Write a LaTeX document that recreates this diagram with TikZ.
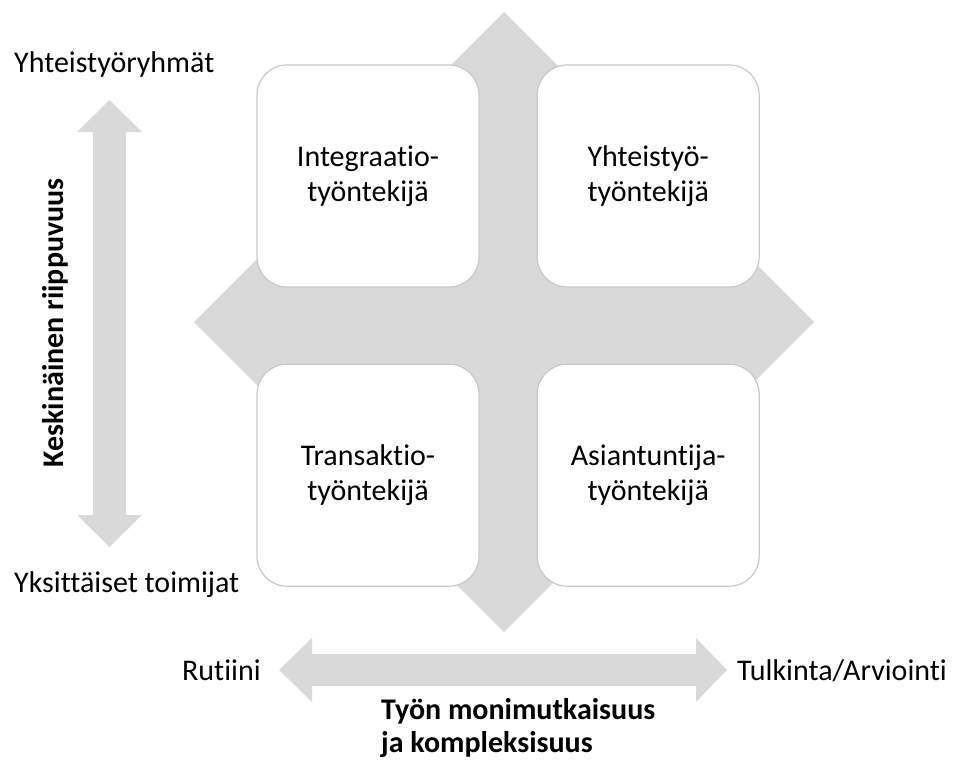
\documentclass[tikz,border=0pt]{standalone}
\usepackage{fontspec}
\setmainfont{Carlito}[Ligatures=NoCommon]
\usetikzlibrary{positioning}

\definecolor{crossgray}{RGB}{217,217,217}
\definecolor{boxline}{RGB}{200,200,200}

\tikzset{
  quadbox/.style={draw=boxline, line width=1.2pt, fill=white, rounded corners=30pt,
    minimum width=222pt, minimum height=222pt, inner sep=0pt, align=center,
    font=\fontsize{30}{35}\selectfont},
  axislabel/.style={anchor=base west, inner sep=0pt, font=\fontsize{30}{35}\selectfont},
  axistitle/.style={inner sep=0pt, font=\bfseries\fontsize{30}{33}\selectfont}
}

\begin{document}
\begin{tikzpicture}[x=1pt, y=-1pt]
    \useasboundingbox (0,0) rectangle (956,760);

    % grey cross behind the four boxes
    \fill[crossgray] (504,12) -- (814,322) -- (504,632) -- (194,322) -- cycle;

    % quadrants
    \node[quadbox] (integ) at (368,176) {Integraatio-\\työntekijä};
    \node[quadbox, right=57pt of integ] (yhteis) {Yhteistyö-\\työntekijä};
    \node[quadbox, below=76pt of integ] (trans) {Transaktio-\\työntekijä};
    \node[quadbox, right=57pt of trans] (asiant) {Asiantuntija-\\työntekijä};

    % vertical axis
    \fill[crossgray] (109.5,100) -- (142,132) -- (126,132) -- (126,515) -- (142,515)
        -- (109.5,547) -- (77,515) -- (93,515) -- (93,132) -- (77,132) -- cycle;
    \node[axislabel] (ryhmat) at (14,73) {Yhteistyöryhmät};
    \node[axislabel] (toimijat) at (14,592) {Yksittäiset toimijat};
    \node[axistitle, rotate=90, anchor=base] (riippuvuus) at (63,323) {Keskinäinen riippuvuus};

    % horizontal axis
    \fill[crossgray] (279,670) -- (312,638) -- (312,654) -- (696,654) -- (696,638)
        -- (727,670) -- (696,702) -- (696,686) -- (312,686) -- (312,702) -- cycle;
    \node[axislabel] (rutiini) at (182,680) {Rutiini};
    \node[axislabel] (tulkinta) at (737,680) {Tulkinta/Arviointi};
    \node[axistitle, anchor=north west, align=left] (monimutk) at (381,698.5)
        {Työn monimutkaisuus\\ja kompleksisuus};
\end{tikzpicture}
\end{document}
